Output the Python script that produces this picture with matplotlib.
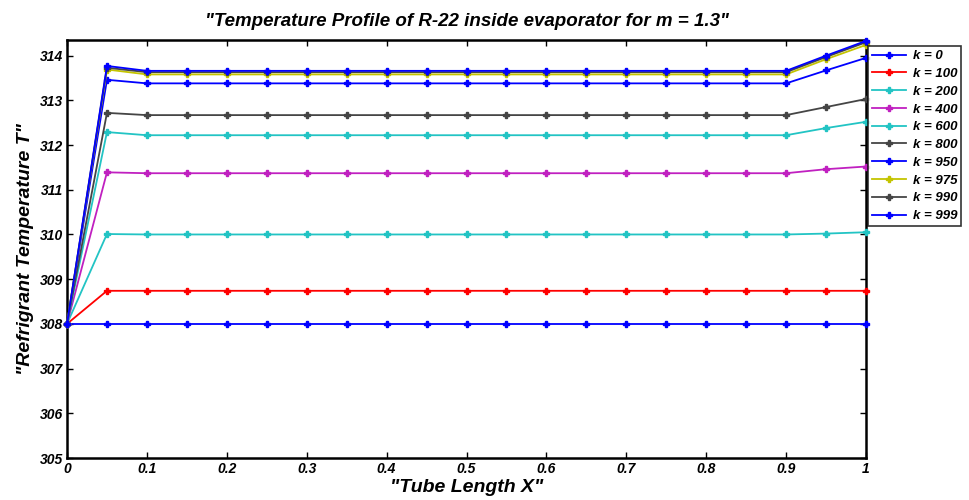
import numpy as np
import matplotlib.pyplot as plt

plt.rcParams['font.family'] = ['Liberation Sans', 'DejaVu Sans']

x = np.arange(21) * 0.05
k_values = [0, 100, 200, 400, 600, 800, 950, 975, 990, 999]

# start value, value at 0.05, flat plateau (0.1..0.9), value at 0.95, value at 1
t_start = [308.0] * 10
t_first = [308.0, 308.74, 310.01, 311.39, 312.29, 312.72, 313.46, 313.69, 313.73, 313.77]
t_flat = [308.0, 308.74, 310.0, 311.37, 312.22, 312.67, 313.38, 313.58, 313.63, 313.66]
t_095 = [308.0, 308.74, 310.02, 311.46, 312.38, 312.85, 313.67, 313.92, 313.97, 314.0]
t_end = [308.0, 308.74, 310.05, 311.52, 312.52, 313.03, 313.95, 314.24, 314.30, 314.33]

colors = ['#0000ff', '#ff0000', '#22c4c4', '#c020c0', '#22c4c4',
          '#454545', '#0000ff', '#c4c400', '#454545', '#0000ff']

fig = plt.figure(figsize=(9.69, 5.0), dpi=100)
ax = fig.add_axes([67/969, 1-458/500, (866-67)/969, (458-40)/500])

for i, k in enumerate(k_values):
    y = [t_start[i], t_first[i]] + [t_flat[i]] * 17 + [t_095[i], t_end[i]]
    ax.plot(x, y, color=colors[i], lw=1.3, marker='P', ms=4.5,
            mec=colors[i], label='k = %d' % k, clip_on=False, zorder=3+i)

ax.set_xlim(0, 1)
ax.set_ylim(305, 314.35)
ax.set_xticks(np.arange(0, 1.01, 0.1))
ax.set_xticklabels(['0'] + ['%.1f' % v for v in np.arange(0.1, 0.95, 0.1)] + ['1'])
ax.set_yticks(range(305, 315))
for s in ax.spines.values():
    s.set_linewidth(1.8)
ax.tick_params(direction='in', length=4, width=1, top=True, right=True,
               labelsize=10, pad=3)
for lab in ax.get_xticklabels() + ax.get_yticklabels():
    lab.set_fontweight('bold')
    lab.set_fontstyle('italic')

ax.set_title('"Temperature Profile of R-22 inside evaporator for m = 1.3"',
             fontsize=13.5, fontweight='bold', fontstyle='italic', pad=10)
ax.set_xlabel('"Tube Length X"', fontsize=14, fontweight='bold',
              fontstyle='italic', labelpad=2)
ax.set_ylabel('"Refrigrant Temperature T"', fontsize=14, fontweight='bold',
              fontstyle='italic', labelpad=4)

leg = fig.legend(loc='upper left', bbox_to_anchor=(868/969, 1-46/500),
                 prop={'size': 9.5, 'weight': 'bold', 'style': 'italic'},
                 frameon=True, fancybox=False, borderpad=0.3,
                 labelspacing=0.42, handlelength=2.6, handletextpad=0.5,
                 borderaxespad=0)
leg.get_frame().set_edgecolor('black')
leg.get_frame().set_linewidth(1.2)

fig.savefig('out.png', dpi=100)
